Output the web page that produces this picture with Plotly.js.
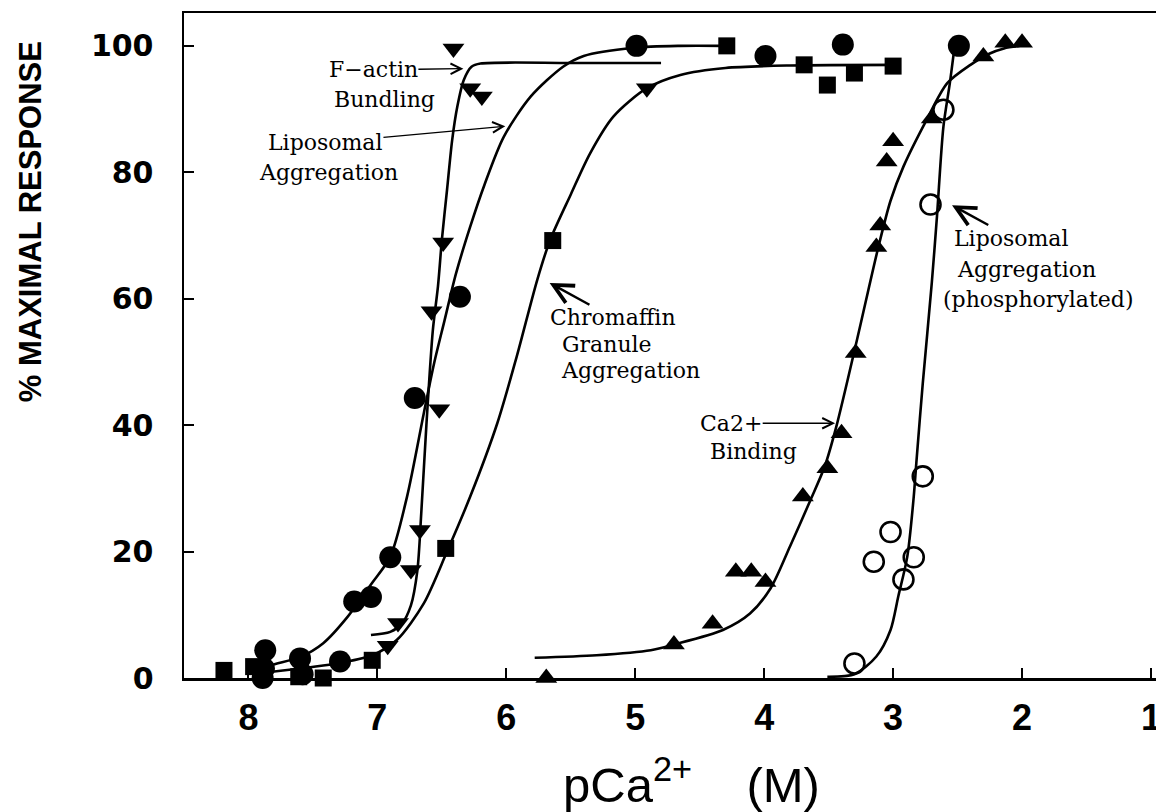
<!DOCTYPE html>
<html>
<head>
<meta charset="utf-8">
<script src="https://cdn.plot.ly/plotly-3.0.1.min.js"></script>
<style>html,body{margin:0;padding:0;background:#fff;}#chart{width:1156px;height:812px;}</style>
</head>
<body>
<div id="chart"></div>
<script>
// ---- Data ----
// Liposomal aggregation (filled circles)
var lipoX = [7.89, 7.87, 7.88, 7.60, 7.58, 7.29, 7.18, 7.05, 6.90, 6.71, 6.36, 4.99, 3.99, 3.39, 2.49];
var lipoY = [0, 4.4, 1.5, 3.1, 0.6, 2.6, 12.1, 12.8, 19.1, 44.3, 60.3, 100, 98.4, 100.2, 100];
var lipoCurveX = [7.90, 7.83, 7.60, 7.42, 7.23, 7.05, 6.90, 6.77, 6.64, 6.56, 6.48, 6.39, 6.28, 6.17, 6.02, 5.81, 5.56, 5.40, 5.01, 4.65, 4.32];
var lipoCurveY = [1.3, 2.0, 3.3, 5.5, 9.7, 14.8, 19.2, 28.7, 41.9, 49.8, 56.5, 64.0, 71.4, 78.0, 85.6, 92.0, 96.7, 98.4, 99.7, 100, 100];

// F-actin bundling (filled down-triangles)
var actinX = [6.92, 6.84, 6.74, 6.67, 6.52, 6.58, 6.49, 6.41, 6.28, 6.19, 4.91];
var actinY = [5.1, 8.7, 17.1, 23.4, 42.5, 58.0, 68.9, 99.6, 93.3, 92.0, 93.3];
var actinCurveX = [7.05, 6.90, 6.81, 6.74, 6.69, 6.66, 6.62, 6.57, 6.53, 6.50, 6.46, 6.42, 6.38, 6.33, 6.27, 6.20, 5.50, 4.80];
var actinCurveY = [6.8, 7.3, 8.6, 11.5, 17.0, 26.0, 40.0, 55.0, 62.0, 69.3, 77.2, 85.1, 90.4, 94.6, 96.7, 97.2, 97.3, 97.3];

// Chromaffin granule aggregation (filled squares)
var chromX = [8.19, 7.96, 7.61, 7.42, 7.04, 6.47, 5.64, 4.29, 3.69, 3.51, 3.30, 3.00];
var chromY = [1.2, 1.8, 0.2, 0, 2.8, 20.5, 69.2, 100, 97.0, 93.8, 95.7, 96.8];
var chromCurveX = [7.90, 7.60, 7.34, 7.04, 6.85, 6.64, 6.46, 6.28, 6.07, 5.92, 5.76, 5.66, 5.50, 5.35, 5.17, 4.91, 4.65, 4.30, 3.80, 2.95];
var chromCurveY = [0.8, 1.5, 2.2, 3.6, 6.0, 11.8, 20.0, 28.7, 40.3, 50.8, 63.0, 69.3, 76.5, 83.0, 88.8, 93.3, 95.4, 96.5, 96.9, 97.0];

// Ca2+ binding (filled up-triangles)
var caX = [5.69, 4.70, 4.40, 4.22, 4.10, 3.99, 3.70, 3.51, 3.40, 3.29, 3.13, 3.10, 3.05, 3.00, 2.70, 2.30, 2.13, 2.00];
var caY = [0, 5.3, 8.6, 16.8, 16.8, 15.2, 28.7, 33.2, 38.7, 51.4, 68.2, 71.6, 81.7, 84.9, 88.5, 98.3, 100.5, 100.5];
var caCurveX = [5.78, 5.30, 4.88, 4.70, 4.32, 4.11, 3.95, 3.80, 3.64, 3.53, 3.44, 3.28, 3.12, 3.02, 2.92, 2.74, 2.58, 2.40, 2.25, 2.14, 2.02];
var caCurveY = [3.2, 3.6, 4.4, 5.3, 7.6, 10.2, 14.2, 20.8, 28.2, 33.5, 39.8, 53.5, 67.7, 75.5, 80.9, 88.3, 94.1, 97.0, 98.8, 99.6, 100];

// Liposomal aggregation, phosphorylated (open circles)
var phosX = [3.30, 3.15, 3.02, 2.92, 2.84, 2.77, 2.71, 2.61];
var phosY = [2.3, 18.4, 23.1, 15.6, 19.1, 31.9, 74.9, 89.9];
var phosCurveX = [3.51, 3.30, 3.13, 3.02, 2.96, 2.89, 2.84, 2.82, 2.77, 2.70, 2.66, 2.61, 2.56, 2.53];
var phosCurveY = [0.2, 0.6, 3.4, 7.6, 12.9, 19.2, 28.7, 34.0, 46.6, 62.5, 73.0, 87.2, 94.1, 98.8];

// Axis ticks
var xTicks = [1, 2, 3, 4, 5, 6, 7, 8];
var yTicks = [0, 20, 40, 60, 80, 100];

// Plain labels: [text, x, y] (left edge)
var labels = [
  ["Bundling", 7.349, 91.5],
  ["Aggregation", 7.93, 79.9],
  ["Granule", 5.581, 52.8],
  ["Aggregation", 5.589, 48.7],
  ["Binding", 4.434, 35.8],
  ["Aggregation", 2.519, 64.6],
  ["(phosphorylated)", 2.63, 59.8]
];
// Labels with arrows: [text, textCenterX, textCenterY, headX, headY, arrowWidth]
var arrowLabels = [
  ["F\u2212actin", 7.031, 96.2, 6.333, 96.4, 1.3],
  ["Liposomal", 7.403, 84.7, 6.008, 87.3, 1.3],
  ["Chromaffin", 5.171, 57.0, 5.664, 62.5, 2.4],
  ["Ca2+", 4.256, 40.3, 3.450, 40.3, 1.3],
  ["Liposomal", 2.078, 69.6, 2.543, 74.8, 2.4]
];

// ---- Traces ----
function curve(x, y) {
  return {x: x, y: y, type: 'scatter', mode: 'lines', line: {color: '#000', width: 2.6, shape: 'spline', smoothing: 0.8}, hoverinfo: 'skip', showlegend: false, cliponaxis: false};
}
function pts(x, y, sym, size, extra) {
  var m = {symbol: sym, size: size, color: '#000', line: {width: 0, color: '#000'}};
  if (extra) { for (var k in extra) m[k] = extra[k]; }
  return {x: x, y: y, type: 'scatter', mode: 'markers', marker: m, showlegend: false, cliponaxis: false};
}

var data = [
  curve(lipoCurveX, lipoCurveY),
  curve(actinCurveX, actinCurveY),
  curve(chromCurveX, chromCurveY),
  curve(caCurveX, caCurveY),
  curve(phosCurveX, phosCurveY),
  pts(lipoX, lipoY, 'circle', 22),
  pts(actinX, actinY, 'triangle-down', 19),
  pts(chromX, chromY, 'square', 17),
  pts(caX, caY, 'triangle-up', 19),
  pts(phosX, phosY, 'circle-open', 20, {line: {width: 2.6, color: '#000'}})
];

var serif = {family: 'DejaVu Serif', size: 22, color: '#000'};
var annotations = [];
labels.forEach(function (l) {
  annotations.push({x: l[1], y: l[2], xref: 'x', yref: 'y', text: l[0], showarrow: false,
    xanchor: 'left', yanchor: 'middle', font: serif});
});
arrowLabels.forEach(function (a) {
  annotations.push({x: a[3], y: a[4], ax: a[1], ay: a[2], xref: 'x', yref: 'y', axref: 'x', ayref: 'y',
    text: a[0], font: serif, showarrow: true, arrowhead: 5, arrowsize: 1.6, arrowwidth: a[5],
    arrowcolor: '#000', standoff: 0, startstandoff: 0, borderpad: 0});
});
annotations.push({xref: 'paper', yref: 'paper', x: -0.158, y: 0.686, text: '% MAXIMAL RESPONSE', textangle: -90,
  showarrow: false, xanchor: 'center', yanchor: 'middle',
  font: {family: 'Liberation Sans, Arial, sans-serif', size: 31, weight: 'bold', color: '#000'}});
annotations.push({xref: 'paper', yref: 'paper', x: 0.522, y: -0.155, text: 'pCa<sup>2+</sup>    (M)',
  showarrow: false, xanchor: 'center', yanchor: 'middle',
  font: {family: 'Liberation Sans, Arial, sans-serif', size: 49, color: '#000'}});

var layout = {
  width: 1156, height: 812,
  margin: {l: 184, r: 0, t: 13, b: 134, pad: 0},
  paper_bgcolor: '#fff', plot_bgcolor: '#fff',
  showlegend: false,
  xaxis: {range: [8.5, 0.961], autorange: false, tickvals: xTicks, ticks: 'inside', ticklen: 10, tickwidth: 2,
    tickcolor: '#000', showline: true, linewidth: 2.5, linecolor: '#000', mirror: true, showgrid: false, zeroline: false,
    ticklabeloverflow: 'allow', ticklabelstandoff: 6,
    tickfont: {family: 'Liberation Sans, Arial, sans-serif', size: 36, weight: 'bold', color: '#000'}},
  yaxis: {range: [0, 105.2], autorange: false, tickvals: yTicks, ticks: 'inside', ticklen: 10, tickwidth: 2,
    tickcolor: '#000', showline: true, linewidth: 2.5, linecolor: '#000', mirror: true, showgrid: false, zeroline: false,
    ticklabelstandoff: 22, tickfont: {family: 'DejaVu Sans', size: 30, weight: 'bold', color: '#000'}},
  annotations: annotations
};

Plotly.newPlot('chart', data, layout, {staticPlot: true, displayModeBar: false});
</script>
</body>
</html>
